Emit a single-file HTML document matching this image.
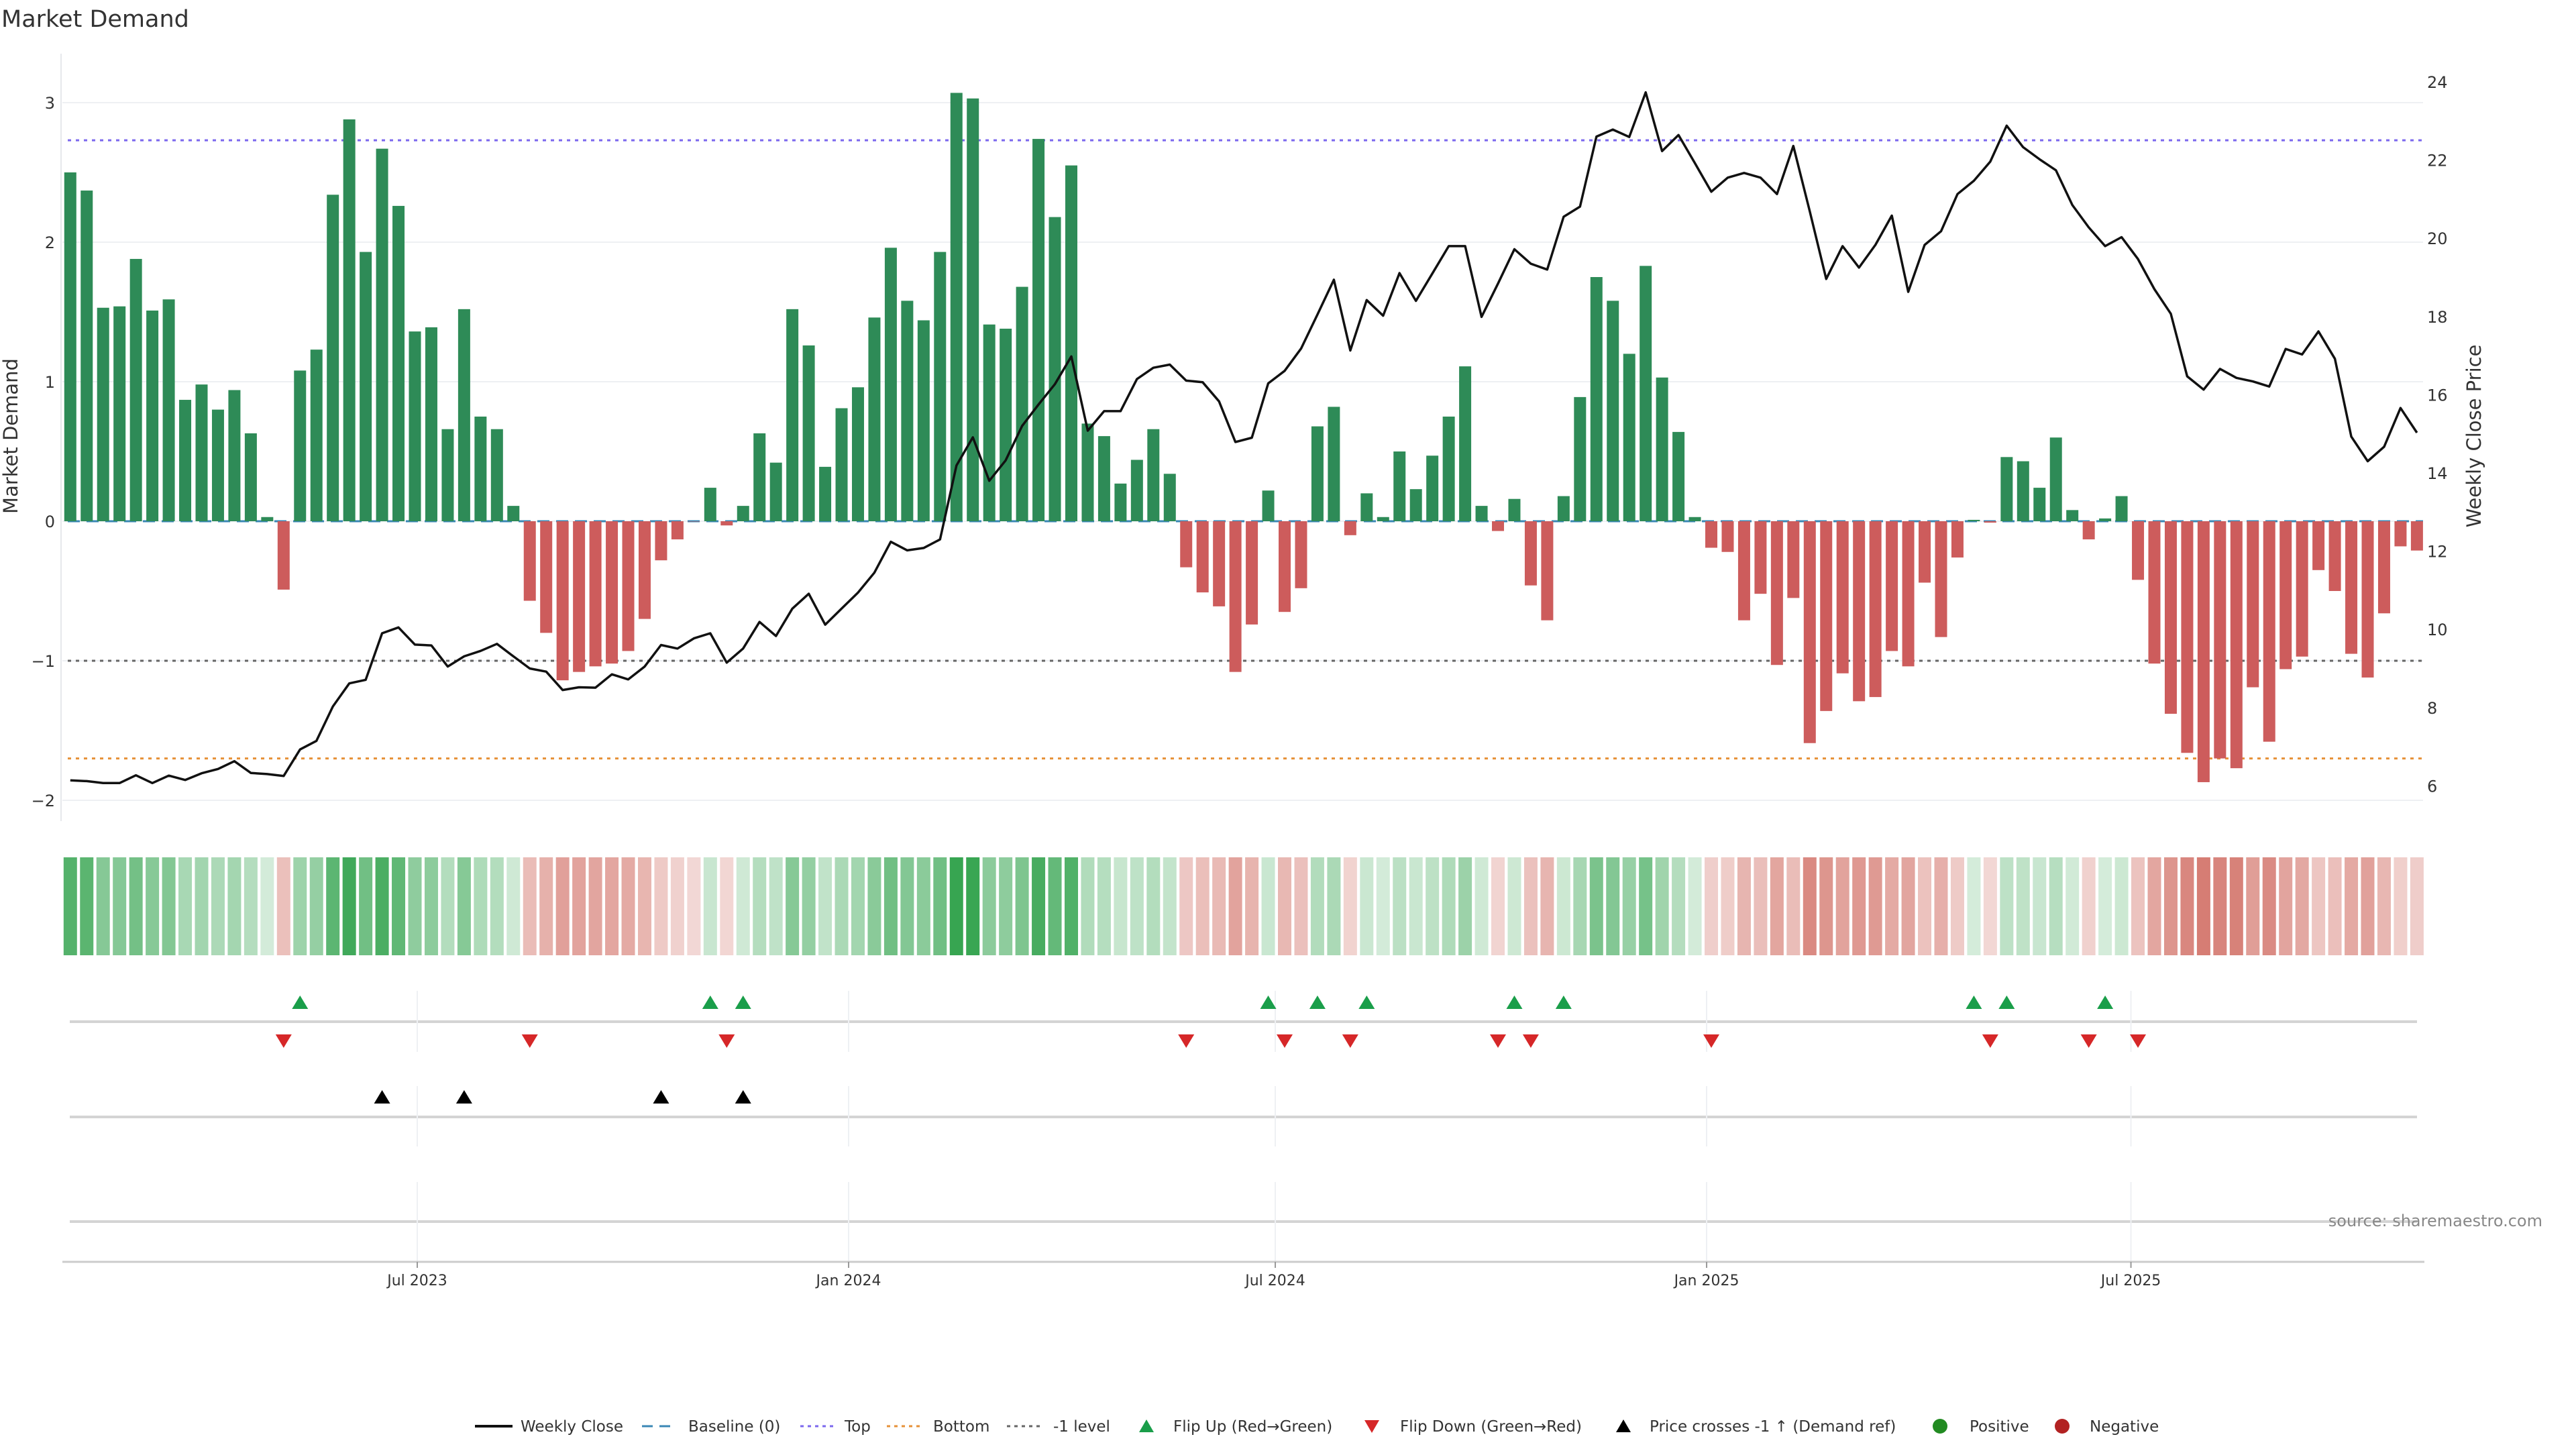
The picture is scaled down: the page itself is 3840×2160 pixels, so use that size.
<!DOCTYPE html>
<html><head><meta charset="utf-8"><style>
html,body{margin:0;padding:0;background:#fff;}
svg{display:block;font-family:"DejaVu Sans","Liberation Sans",sans-serif;}
</style></head><body>
<svg id="chart" width="3840" height="2160" viewBox="0 0 3840 2160" xmlns="http://www.w3.org/2000/svg">
<text x="2" y="40" font-size="35" fill="#333">Market Demand</text>
<text transform="translate(26,650) rotate(-90)" text-anchor="middle" font-size="29" fill="#333">Market Demand</text>
<text transform="translate(3698,650) rotate(-90)" text-anchor="middle" font-size="29" fill="#333">Weekly Close Price</text>
<g id="grid"></g><g id="refs"></g><g id="bars"></g><g id="line"></g><g id="heat"></g><g id="panels"></g><g id="xaxis"></g><g id="legend"></g>
<text x="3790" y="1828" text-anchor="end" font-size="24" fill="#888">source: sharemaestro.com</text>
</svg>
<script>
const demand = [2.50,2.37,1.53,1.54,1.88,1.51,1.59,0.87,0.98,0.80,0.94,0.63,0.03,-0.49,1.08,1.23,2.34,2.88,1.93,2.67,2.26,1.36,1.39,0.66,1.52,0.75,0.66,0.11,-0.57,-0.80,-1.14,-1.08,-1.04,-1.02,-0.93,-0.70,-0.28,-0.13,0,0.24,-0.03,0.11,0.63,0.42,1.52,1.26,0.39,0.81,0.96,1.46,1.96,1.58,1.44,1.93,3.07,3.03,1.41,1.38,1.68,2.74,2.18,2.55,0.70,0.61,0.27,0.44,0.66,0.34,-0.33,-0.51,-0.61,-1.08,-0.74,0.22,-0.65,-0.48,0.68,0.82,-0.10,0.20,0.03,0.50,0.23,0.47,0.75,1.11,0.11,-0.07,0.16,-0.46,-0.71,0.18,0.89,1.75,1.58,1.20,1.83,1.03,0.64,0.03,-0.19,-0.22,-0.71,-0.52,-1.03,-0.55,-1.59,-1.36,-1.09,-1.29,-1.26,-0.93,-1.04,-0.44,-0.83,-0.26,0.01,-0.01,0.46,0.43,0.24,0.60,0.08,-0.13,0.02,0.18,-0.42,-1.02,-1.38,-1.66,-1.87,-1.70,-1.77,-1.19,-1.58,-1.06,-0.97,-0.35,-0.50,-0.95,-1.12,-0.66,-0.18,-0.21];
const price = [6.14,6.12,6.07,6.07,6.27,6.07,6.26,6.15,6.32,6.43,6.63,6.33,6.30,6.25,6.93,7.15,8.03,8.62,8.71,9.90,10.05,9.61,9.59,9.05,9.31,9.45,9.63,9.31,9.00,8.92,8.45,8.52,8.51,8.85,8.72,9.05,9.60,9.51,9.77,9.90,9.15,9.51,10.19,9.83,10.53,10.91,10.12,10.53,10.94,11.45,12.24,12.02,12.08,12.30,14.19,14.91,13.80,14.32,15.20,15.75,16.27,16.98,15.08,15.58,15.58,16.40,16.69,16.77,16.36,16.32,15.83,14.79,14.90,16.29,16.61,17.18,18.05,18.94,17.13,18.42,18.02,19.11,18.40,19.10,19.80,19.80,17.99,18.84,19.72,19.35,19.20,20.55,20.81,22.60,22.78,22.59,23.73,22.23,22.64,21.92,21.19,21.55,21.67,21.55,21.13,22.36,20.69,18.96,19.80,19.25,19.83,20.58,18.63,19.83,20.18,21.13,21.47,21.96,22.88,22.33,22.02,21.74,20.85,20.28,19.80,20.03,19.47,18.70,18.07,16.47,16.13,16.66,16.43,16.34,16.21,17.17,17.03,17.62,16.92,14.93,14.30,14.67,15.66,15.03];
const leftTicks = [3,2,1,0,-1,-2];
const rightTicks = [24,22,20,18,16,14,12,10,8,6];
const levels = {top:2.73, bottom:-1.70, minusOne:-1};
const xTickLabels = ["Jul 2023","Jan 2024","Jul 2024","Jan 2025","Jul 2025"];
const xTickDates = ["2023-07-01","2024-01-01","2024-07-01","2025-01-01","2025-07-01"];
const startDate = "2023-02-03";

const NS="http://www.w3.org/2000/svg";
function mk(parent,tag,attrs){const e=document.createElementNS(NS,tag);for(const k in attrs)e.setAttribute(k,attrs[k]);document.getElementById(parent).appendChild(e);return e;}
const DAY=86400000, t0=Date.parse("2023-07-01");
function xDate(d){return 622+(Date.parse(d)-t0)/DAY*3.4946;}
function xi(i){return 622+(Date.parse(startDate)+i*7*DAY-t0)/DAY*3.4946;}
function yL(v){return 777-v*208;}
function yR(p){return 122+(24-p)*58.3;}
const L=93,R=3612;

leftTicks.forEach(v=>{
  const g=mk('grid','line',{x1:L,x2:R,y1:yL(v),y2:yL(v),stroke:'#eef0f3','stroke-width':2});
  
  
  const t=mk('grid','text',{x:82,y:yL(v)+9,'text-anchor':'end','font-size':24,fill:'#333'});
  t.textContent=v<0?'\u2212'+Math.abs(v):String(v);
  
  
});
rightTicks.forEach(v=>{
  const t=mk('grid','text',{x:3618,y:yR(v)+9,'font-size':24,fill:'#333'});
  t.textContent=String(v);
  
  
});
const sp=mk('grid','line',{x1:91,x2:91,y1:80,y2:1224,stroke:'#e6e8ec','stroke-width':2});



function ref(v,color,dash,name){const e=mk('refs','line',{x1:L+8,x2:R,y1:yL(v),y2:yL(v),stroke:color,'stroke-width':3,'stroke-dasharray':dash});

}
ref(levels.top,'#7b68ee','5 7','top-level-line');
ref(levels.bottom,'#e69138','5 7','bottom-level-line');
ref(levels.minusOne,'#666','5 7','minus-one-level-line');
ref(0,'#3a87b5','18 10','baseline-zero-line');

demand.forEach((v,i)=>{
  const x=xi(i), y0=yL(0), y1=yL(v);
  const b=mk('bars','rect',{x:x-9,width:18,y:Math.min(y0,y1),height:Math.max(0.5,Math.abs(y1-y0)),fill:v>0?'#2e8b57':'#cd5c5c'});
  
  
});
const pl=mk('line','polyline',{points:price.map((p,i)=>xi(i).toFixed(1)+','+yR(p).toFixed(1)).join(' '),fill:'none',stroke:'#111','stroke-width':3.5,'stroke-linejoin':'round'});



function mix(c,a){return 'rgb('+c.map(ch=>Math.round(ch*a+255*(1-a))).join(',')+')';}
demand.forEach((v,i)=>{
  const a=Math.min(0.95,0.2+0.75*Math.abs(v)/3.07);
  const c=v>0?mix([44,160,72],a):mix([192,57,43],a);
  const r=mk('heat','rect',{x:xi(i)-10,width:20,y:1278,height:146,fill:c});
  
  
});

[[1523,'flip-panel-divider'],[1665,'cross-panel-divider'],[1821,'empty-panel-divider']].forEach(([y,n])=>{
  const e=mk('panels','line',{x1:104,x2:3603,y1:y,y2:y,stroke:'#d4d4d4','stroke-width':4});
  
  
});
xTickDates.forEach(d=>{
  [[1477,1568],[1619,1709],[1762,1880]].forEach(([a,b])=>{
    const e=mk('panels','line',{x1:xDate(d),x2:xDate(d),y1:a,y2:b,stroke:'#eef0f3','stroke-width':2});
    
    
  });
});
function tri(x,y,up,color,name){
  const pts=up?[[x-12,y+10],[x+12,y+10],[x,y-10]]:[[x-12,y-10],[x+12,y-10],[x,y+10]];
  const e=mk('panels','polygon',{points:pts.map(p=>p.join(',')).join(' '),fill:color});
  
  
}
const thr=24-(yL(-1)-122)/58.3;
for(let i=1;i<demand.length;i++){
  if(demand[i-1]<=0&&demand[i]>0) tri(xi(i),1494,true,'#1a9e4a','flip-up-marker');
  if(demand[i-1]>0&&demand[i]<=0) tri(xi(i),1552,false,'#d62728','flip-down-marker');
  if(price[i-1]<thr&&price[i]>=thr) tri(xi(i),1635,true,'#000','price-cross-marker');
}

const ax=mk('xaxis','line',{x1:L,x2:3614,y1:1881,y2:1881,stroke:'#ccc','stroke-width':3});


xTickDates.forEach((d,k)=>{
  const x=xDate(d);
  const tk=mk('xaxis','line',{x1:x,x2:x,y1:1881,y2:1890,stroke:'#999','stroke-width':2});
  
  
  const t=mk('xaxis','text',{x:x,y:1916,'text-anchor':'middle','font-size':22,fill:'#333'});
  t.textContent=xTickLabels[k];
  
  
});

const LY=2126;
function ltxt(x,s){const t=mk('legend','text',{x:x,y:LY+8,'font-size':23,fill:'#333'});t.textContent=s;

}
function lline(x1,x2,color,dash,w){const e=mk('legend','line',{x1:x1,x2:x2,y1:LY,y2:LY,stroke:color,'stroke-width':w,'stroke-dasharray':dash});

}
lline(708,764,'#111','',4);ltxt(776,'Weekly Close');
lline(957,1004,'#3a87b5','16 10',3);ltxt(1026,'Baseline (0)');
lline(1193,1242,'#7b68ee','5 6',3);ltxt(1259,'Top');
lline(1322,1371,'#e69138','5 6',3);ltxt(1391,'Bottom');
lline(1501,1550,'#666','5 6',3);ltxt(1570,'-1 level');
function ltri(x,up,color){const pts=up?[[x-11,LY+9],[x+11,LY+9],[x,LY-10]]:[[x-11,LY-9],[x+11,LY-9],[x,LY+10]];
const e=mk('legend','polygon',{points:pts.map(p=>p.join(',')).join(' '),fill:color});

}
ltri(1709,true,'#1a9e4a');ltxt(1749,'Flip Up (Red\u2192Green)');
ltri(2045,false,'#d62728');ltxt(2087,'Flip Down (Green\u2192Red)');
ltri(2420,true,'#000');ltxt(2459,'Price crosses -1 \u2191 (Demand ref)');
function lcirc(x,color){const e=mk('legend','circle',{cx:x,cy:LY,r:11,fill:color});

}
lcirc(2892,'#228b22');ltxt(2936,'Positive');
lcirc(3074,'#b22222');ltxt(3115,'Negative');
</script>
</body></html>
